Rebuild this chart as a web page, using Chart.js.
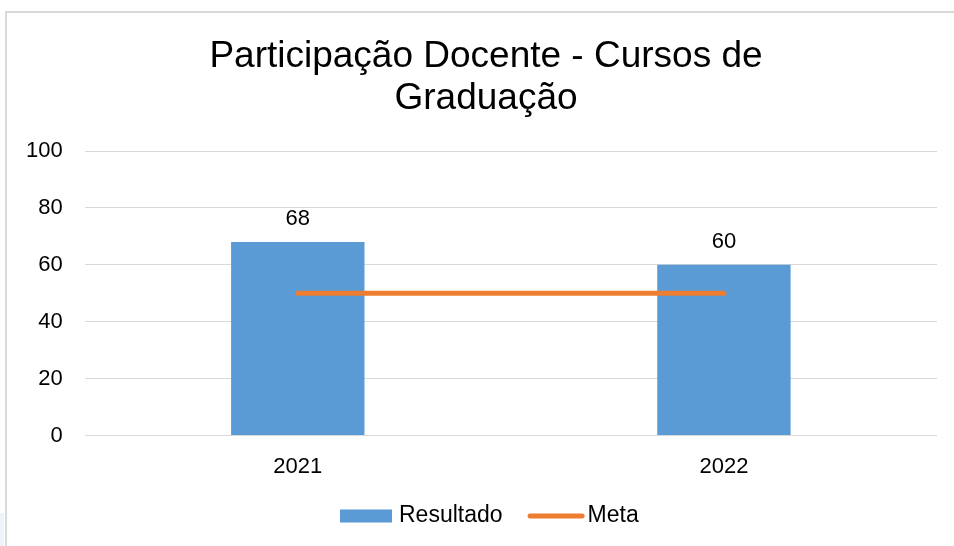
<!DOCTYPE html>
<html>
<head>
<meta charset="utf-8">
<script src="https://cdn.jsdelivr.net/npm/chart.js@4/dist/chart.umd.min.js"></script>
<style>
  html, body { margin: 0; padding: 0; background: #ffffff; }
  #wrap { width: 954px; height: 546px; position: relative; }
</style>
</head>
<body>
<div id="wrap"><canvas id="c" width="954" height="546"></canvas></div>
<script>
const titleLines = ["Participação Docente - Cursos de", "Graduação"];
const categories = ["2021", "2022"];
const resultado = [68, 60];
const meta = [50, 50];
const yTicks = [0, 20, 40, 60, 80, 100];

const FONT = "'Liberation Sans', Arial, Helvetica, sans-serif";
const BLUE = "#5B9BD5";
const ORANGE = "#ED7D31";

const framePlugin = {
  id: "frame",
  beforeDraw(chart) {
    const ctx = chart.ctx;
    ctx.save();
    ctx.fillStyle = "#ffffff";
    ctx.fillRect(0, 0, chart.width, chart.height);
    ctx.fillStyle = "#eef2f9";
    ctx.fillRect(0, 513, 4, chart.height - 513);
    ctx.strokeStyle = "#d9d9d9";
    ctx.lineWidth = 2;
    ctx.beginPath();
    ctx.moveTo(6, chart.height + 5);
    ctx.lineTo(6, 12);
    ctx.lineTo(chart.width + 5, 12);
    ctx.stroke();
    // title
    ctx.font = "37px " + FONT;
    ctx.fillStyle = "#000000";
    ctx.textAlign = "center";
    ctx.textBaseline = "middle";
    titleLines.forEach((t, i) => ctx.fillText(t, 486, 57 + i * 42));
    ctx.restore();
  }
};

const labelPlugin = {
  id: "valueLabels",
  afterDatasetsDraw(chart) {
    const ctx = chart.ctx;
    const barMeta = chart.getDatasetMeta(0);
    ctx.save();
    ctx.font = "22px " + FONT;
    ctx.fillStyle = "#000000";
    ctx.textAlign = "center";
    ctx.textBaseline = "middle";
    barMeta.data.forEach((bar, i) => {
      ctx.fillText(String(chart.data.datasets[0].data[i]), bar.x, bar.y - 23);
    });
    ctx.restore();
  }
};

const legendPlugin = {
  id: "customLegend",
  afterDraw(chart) {
    const ctx = chart.ctx;
    const ds = chart.data.datasets;
    ctx.save();
    ctx.font = "23px " + FONT;
    ctx.textBaseline = "middle";
    ctx.textAlign = "left";
    const cy = 516;
    const boxW = 52, lineW = 57;
    const w1 = ctx.measureText(ds[0].label).width;
    let x = 340;
    ctx.fillStyle = ds[0].backgroundColor;
    ctx.fillRect(x, cy - 6.5, boxW, 13);
    x += boxW + 7;
    ctx.fillStyle = "#000000";
    ctx.fillText(ds[0].label, x, cy);
    x += w1 + 25;
    ctx.strokeStyle = ds[1].borderColor;
    ctx.lineWidth = 5;
    ctx.lineCap = "round";
    ctx.beginPath();
    ctx.moveTo(x + 2.5, cy);
    ctx.lineTo(x + lineW - 2.5, cy);
    ctx.stroke();
    x += lineW + 3;
    ctx.fillStyle = "#000000";
    ctx.fillText(ds[1].label, x, cy);
    ctx.restore();
  }
};

new Chart(document.getElementById("c"), {
  data: {
    labels: categories,
    datasets: [
      {
        type: "bar",
        label: "Resultado",
        data: resultado,
        backgroundColor: BLUE,
        borderWidth: 0,
        categoryPercentage: 1,
        barPercentage: 0.313,
        order: 1
      },
      {
        type: "line",
        label: "Meta",
        data: meta,
        borderColor: ORANGE,
        backgroundColor: ORANGE,
        borderWidth: 5,
        borderCapStyle: "round",
        pointRadius: 0,
        pointHoverRadius: 0,
        fill: false,
        order: 0
      }
    ]
  },
  options: {
    responsive: false,
    animation: false,
    events: [],
    layout: { padding: { left: 4, right: 17, top: 151, bottom: 48 } },
    plugins: {
      legend: { display: false },
      tooltip: { enabled: false },
      title: { display: false }
    },
    scales: {
      x: {
        grid: { display: false, drawTicks: false },
        border: { display: false },
        ticks: { color: "#000000", font: { family: FONT, size: 22 }, padding: 18 }
      },
      y: {
        min: 0,
        max: 100,
        afterBuildTicks(scale) { scale.ticks = yTicks.map(v => ({ value: v })); },
        grid: { color: "#d9d9d9", lineWidth: 1, drawTicks: false },
        border: { display: false },
        ticks: { color: "#000000", font: { family: FONT, size: 22 }, padding: 22 }
      }
    }
  },
  plugins: [framePlugin, labelPlugin, legendPlugin]
});
</script>
</body>
</html>
